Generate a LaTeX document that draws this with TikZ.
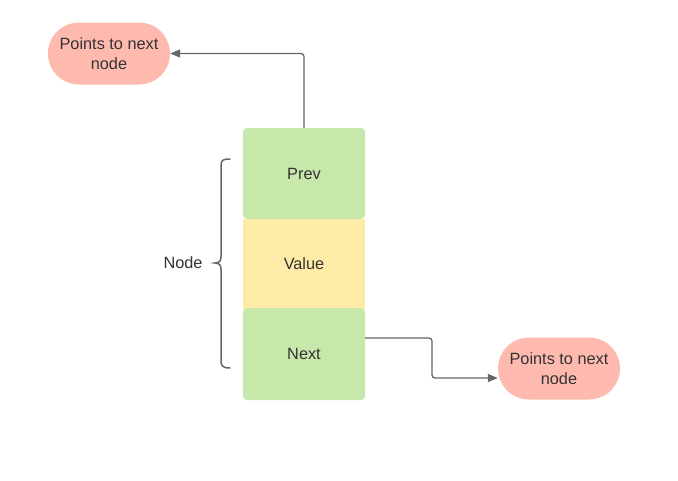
\documentclass[tikz,border=0pt]{standalone}
\usepackage{fontspec}
\setmainfont{Liberation Sans}
\usetikzlibrary{arrows.meta}
\definecolor{cgreen}{HTML}{C7E7AB}
\definecolor{cyellow}{HTML}{FFEBA8}
\definecolor{cpink}{HTML}{FFBAAF}
\definecolor{ctext}{HTML}{333333}
\definecolor{cline}{HTML}{666666}
\tikzset{
  cell/.style={minimum width=122pt, inner sep=0pt, text=ctext, font=\fontsize{16.3}{19}\selectfont},
  pill/.style={fill=cpink, rounded corners=31pt, minimum width=122pt, minimum height=62pt, inner sep=0pt, align=center, text=ctext, font=\fontsize{16.3}{20}\selectfont},
  link/.style={draw=cline, line width=1.3pt, rounded corners=3pt, -{Triangle[length=10pt,width=8pt]}},
}
\begin{document}
\begin{tikzpicture}[x=1pt,y=-1pt]
\useasboundingbox (0,0) rectangle (678,480);
\node[cell, fill=cyellow, minimum height=90pt] (value) at (304,263.5) {Value};
\node[cell, fill=cgreen, rounded corners=4pt, minimum height=91pt] (prev) at (304,173.5) {Prev};
\node[cell, fill=cgreen, rounded corners=4pt, minimum height=92pt] (next) at (304,354) {Next};
\node[pill] (top) at (109,53.5) {Points to next\\node};
\node[pill] (bot) at (559,368.5) {Points to next\\node};
\node[text=ctext, font=\fontsize{16.3}{19}\selectfont] (lbl) at (183,263) {Node};
\draw[link] (prev.north) |- (top.east);
\coordinate (nx) at (next.east |- 0,338);
\coordinate (bx) at (bot.west |- 0,378);
\draw[link] (nx) -- (432,338) |- (bx);
\draw[cline, line width=1.5pt, line cap=round] (230,159) .. controls (223,159) and (221,160) .. (221,166) -- (221,257) .. controls (221,261) and (219,263) .. (215,263) .. controls (219,263) and (221,265) .. (221,269) -- (221,361) .. controls (221,366) and (223,368) .. (230,368);
\end{tikzpicture}
\end{document}
